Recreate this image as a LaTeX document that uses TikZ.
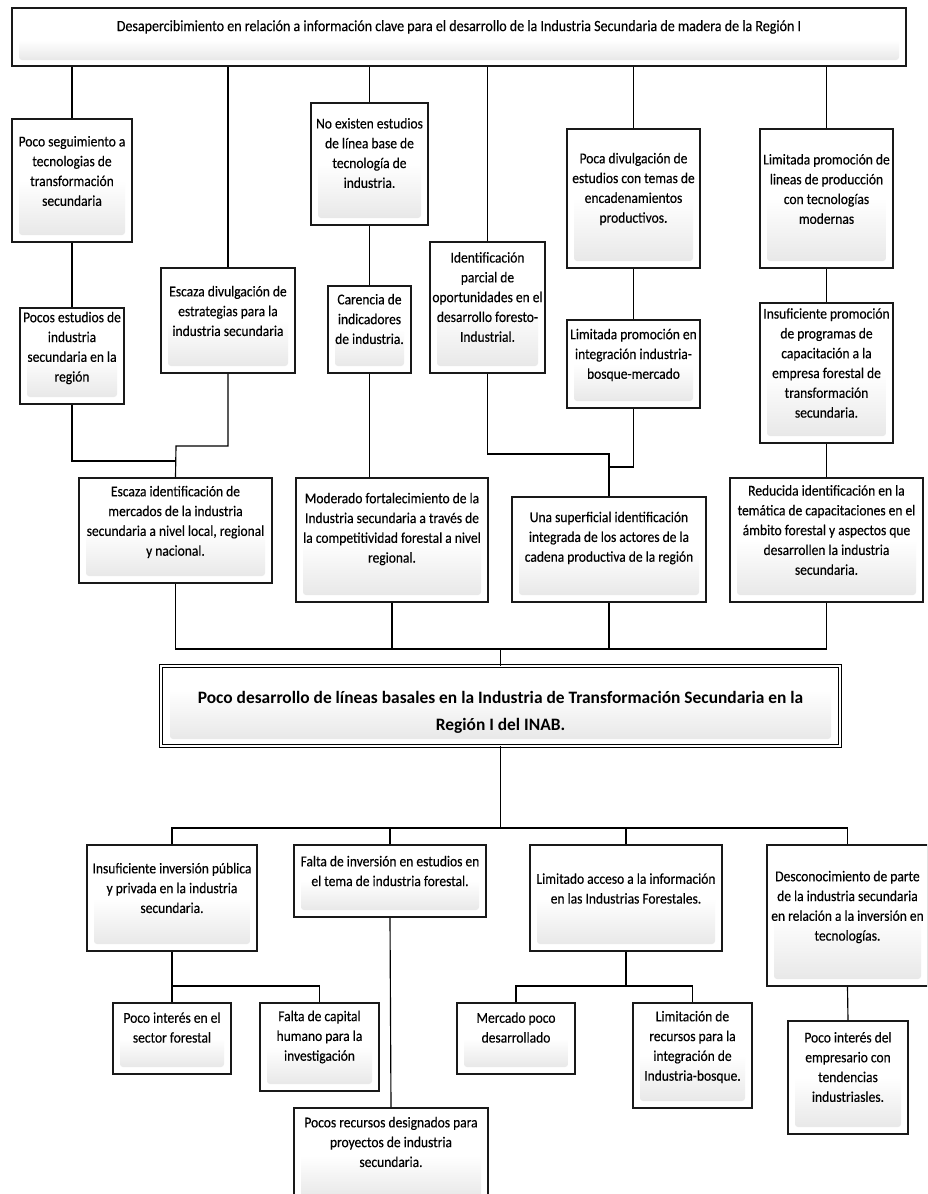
\documentclass[tikz,border=0pt]{standalone}
\usepackage{fontspec}
\setmainfont{Carlito}
\newfontfamily\boxfont{Carlito}[FakeStretch=0.9,FakeBold=0.3]
\usetikzlibrary{calc}

\tikzset{
  x=1pt, y=-1pt,
  link/.style={draw=black, line width=1.15pt},
  boxframe/.style={draw=black!90, line width=1.6pt, fill=white, inner sep=0pt},
  boxtext/.style={align=center, font=\boxfont\fontsize{15}{19.8}\selectfont, inner sep=0pt},
  glow/.style={top color=white, bottom color=black!9, rounded corners=3pt},
}

% \causebox{name}{x1}{y1}{x2}{y2}{text centre y}{text}
\newcommand\causebox[7]{%
  \node[boxframe, minimum width={#4-#2}, minimum height={#5-#3}] (#1)
    at ({(#2+#4)/2},{(#3+#5)/2}) {};
  \shade[glow] ({#2+7},{#3+0.5*(#5-#3)}) rectangle ({#4-7},{#5-7});
  \node[boxtext] (#1-t) at ({(#2+#4)/2},#6) {#7};
}

\begin{document}
\begin{tikzpicture}
\useasboundingbox (0,0) rectangle (927,1194);
\clip (0,0) rectangle (927,1194);

% ---------- top statement ----------
\node[boxframe, minimum width=894, minimum height=58] (top) at (459,37) {};
\shade[glow] (19,40) rectangle (899,60);
\node[boxtext, font=\boxfont\fontsize{15.6}{18}\selectfont] at (459,27)
  {Desapercibimiento en  relación a información clave para el desarrollo de la Industria Secundaria de madera de la Región I};

% ---------- upper causes ----------
\causebox{A1}{12}{119}{132}{242}{171}{Poco seguimiento a\\tecnologias de\\transformación\\secundaria}
\causebox{A2}{20}{308}{124}{404}{348}{Pocos estudios de\\industria\\secundaria en la\\región}
\causebox{B1}{161}{268}{295}{373}{311}{Escaza divulgación de\\estrategias para la\\industria secundaria}
\causebox{C1}{311}{103}{428}{225}{153}{No existen estudios\\de línea base  de\\tecnología de\\industria.}
\causebox{C2}{328}{286}{411}{373}{319}{Carencia de\\indicadores\\de industria.}
\causebox{D1}{430}{242}{545}{373}{297}{Identificación\\parcial de\\oportunidades en el\\desarrollo foresto-\\Industrial.}
\causebox{E1}{567}{129}{700}{268}{189}{Poca divulgación de\\estudios con temas de\\encadenamientos\\productivos.}
\causebox{E2}{567}{320}{700}{408}{355}{Limitada promoción en\\integración industria-\\bosque-mercado}
\causebox{F1}{760}{129}{893}{268}{189}{Limitada promoción de\\lineas de producción\\con tecnologías\\modernas}
\causebox{F2}{760}{303}{893}{443}{363}{Insuficiente promoción\\de programas de\\capacitación a la\\empresa forestal de\\transformación\\secundaria.}

\causebox{G}{79}{478}{272}{583}{522}{Escaza identificación de\\mercados  de la industria\\secundaria a nivel local, regional\\y nacional.}
\causebox{H}{296}{478}{488}{602}{529}{Moderado fortalecimiento de la\\Industria secundaria a través de\\la competitividad forestal a nivel\\regional.}
\causebox{I}{512}{497}{706}{602}{538}{Una superficial  identificación\\integrada de los actores de la\\cadena productiva de la región}
\causebox{J}{730}{478}{923}{602}{530}{Reducida identificación en la\\temática de capacitaciones en el\\ámbito forestal y aspectos que\\desarrollen la industria\\secundaria.}

% ---------- central problem ----------
\node[draw=black, line width=0.9pt, double=white, double distance=2.2pt, fill=white,
      minimum width=679, minimum height=80, inner sep=0pt] (core) at (500.5,706) {};
\shade[glow] (170,690) rectangle (831,739);
\node[align=center, inner sep=0pt, font=\fontsize{17.4}{27}\selectfont\bfseries] at (500.5,712.5)
  {Poco desarrollo de líneas basales en la Industria de Transformación Secundaria en la\\Región I del INAB.};

% ---------- lower effects ----------
\causebox{K}{87}{845}{257}{951}{888}{Insuficiente inversión pública\\y privada en la industria\\secundaria.}
\causebox{L}{294}{845}{486}{917}{871}{Falta de inversión en estudios en\\el tema de industria forestal.}
\causebox{M}{530}{845}{722}{951}{888.5}{Limitado acceso a la información\\en las Industrias Forestales.}
\causebox{N}{767}{845}{928}{986}{907}{Desconocimiento de parte\\de la industria secundaria\\en relación a la inversión en\\tecnologías.}
\causebox{K1}{113}{1003}{231}{1074}{1027.5}{Poco interés en el\\sector forestal}
\causebox{K2}{260}{1003}{379}{1091}{1037}{Falta de capital\\humano para la\\investigación}
\causebox{L1}{294}{1108}{488}{1204}{1142}{Pocos recursos designados para\\proyectos  de industria\\secundaria.}
\causebox{M1}{457}{1003}{575}{1074}{1027.5}{Mercado poco\\desarrollado}
\causebox{M2}{633}{1003}{752}{1108}{1047}{Limitación de\\recursos para la\\integración de\\Industria-bosque.}
\causebox{N1}{788}{1021}{908}{1134}{1067}{Poco interés del\\empresario con\\tendencias\\industriasles.}

% ---------- junction points ----------
\coordinate (jG1) at (176,461);
\coordinate (jG2) at (176,446);
\coordinate (jI1) at (609,454);
\coordinate (jI2) at (609,467);
\coordinate (busTop) at (500.5,649);
\coordinate (busBot) at (500.5,828);
\coordinate (jK) at (172,986);
\coordinate (jM) at (626,986);

% ---------- connectors, upper part ----------
\foreach \b in {A1,B1,C1,D1,E1,F1}
  \draw[link] (top.south -| \b.north) -- (\b.north);
\draw[link] (A1.south) -- (A2.north);
\draw[link] (C1.south) -- (C2.north);
\draw[link] (E1.south) -- (E2.north);
\draw[link] (F1.south) -- (F2.north);
\draw[link] (A2.south) |- (jG1);
\draw[link] (B1.south) |- (jG2) -- (G.north);
\draw[link] (C2.south) -- (C2.south |- H.north);
\draw[link] (D1.south) |- (jI1) -- (I.north);
\draw[link] (E2.south) |- (jI2);
\draw[link] (F2.south) -- (J.north);

\draw[link] (G.south) -- (G.south |- busTop) -- (J.south |- busTop) -- (J.south);
\draw[link] (H.south) -- (H.south |- busTop);
\draw[link] (I.south) -- (I.south |- busTop);
\draw[link] (busTop) -- (core.north);

% ---------- connectors, lower part ----------
\draw[link] (core.south) -- (busBot);
\draw[link] (K.north) -- (K.north |- busBot) -- (N.north |- busBot) -- (N.north);
\draw[link] (L.north) -- (L.north |- busBot);
\draw[link] (M.north) -- (M.north |- busBot);
\draw[link] (K.south) -- (K1.north);
\draw[link] (jK) -| (K2.north);
\draw[link] (L.south) -- (L1.north);
\draw[link] (M.south) -- (jM);
\draw[link] (M1.north) |- (M2.north |- jM) -- (M2.north);
\draw[link] (N.south) -- (N1.north);
\end{tikzpicture}
\end{document}
